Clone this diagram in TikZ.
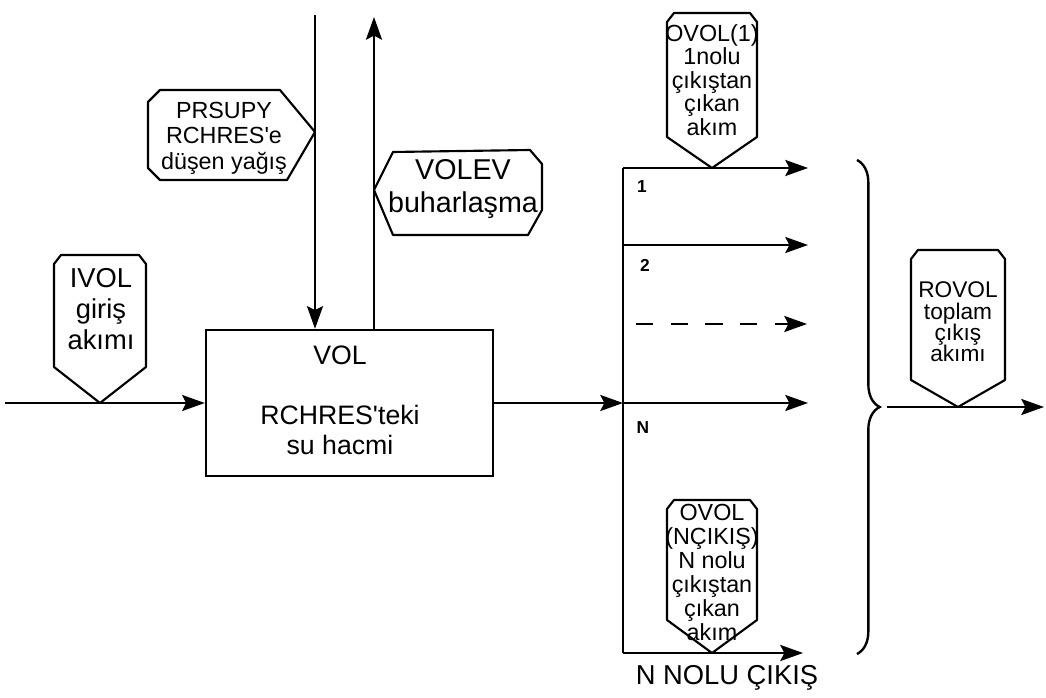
\documentclass[tikz,border=0pt]{standalone}
\usepackage{fontspec}
\setmainfont{Liberation Sans}
\usetikzlibrary{arrows.meta,decorations.pathreplacing}
\newcommand{\iri}{\fontsize{20}{22.5}\selectfont}
\newcommand{\minik}{\fontsize{13}{15}\selectfont\bfseries}
\newcommand{\tirnak}{\textquotesingle}
\tikzset{akis/.style={line width=1.8pt,-{Stealth[length=17pt,width=12pt,inset=3pt]}},
  cizgi/.style={line width=1.8pt},
  etiket/.style={line width=1.6pt,line join=round},
  yazi/.style={inner sep=0,align=center},
  kutu/.style={draw,line width=1.8pt,minimum width=215.25pt,minimum height=109.5pt,inner sep=0}}
% asagi bakan etiket: x, ust, omuz, uc, yarim genislik
\newcommand{\etiketalt}[5]{\draw[etiket] ({#1-#5},{#2+9}) -- ({#1-#5+7},#2) -- ({#1+#5-7},#2)
  -- ({#1+#5},{#2+9}) -- ({#1+#5},#3) -- (#1,#4) -- ({#1-#5},#3) -- cycle;}
\begin{document}
\begin{tikzpicture}[x=0.75pt,y=-0.75pt]
\useasboundingbox (0,0) rectangle (1046,698);
% hazne kutusu, giris ve dikey akislar
\node[kutu] (kutu) at (349.5,403) {};
\node[yazi,font=\iri] (vol) at (340,355) {VOL};
\node[yazi,font=\iri] (hacim) at (340,430) {RCHRES\tirnak teki\\su hacmi};
\coordinate (giris) at (5,403);
\draw[akis] (giris) -- (kutu.west);
\coordinate (yagis) at (315,15);
\coordinate (buhar) at (374,17);
\draw[akis] (yagis) -- (yagis |- kutu.north);
\draw[akis] (buhar |- kutu.north) -- (buhar);
% etiketler
\etiketalt{100}{255}{367}{403}{46}
\node[yazi,font=\fontsize{20.5}{23}\selectfont] (ivol) at (101,309) {IVOL\\giriş\\akımı};
\draw[etiket] (160,90) -- (280,90) -- (315,132) -- (287,180) -- (160,180) -- (148,168)
  -- (148,102) -- cycle;
\node[yazi,font=\fontsize{17.5}{19}\selectfont] (prsupy) at (224,138) {PRSUPY\\RCHRES\tirnak e\\düşen yağış};
\draw[etiket] (374,190) -- (393,152) -- (530,150) -- (542,164) -- (542,210) -- (528,235)
  -- (393,235) -- cycle;
\node[yazi,font=\fontsize{21.5}{25}\selectfont] (volev) at (463,189) {VOLEV\\buharlaşma};
% cikislara dagitim
\coordinate (dagust) at (623,168);
\coordinate (dagalt) at (623,653);
\draw[cizgi] (dagust) -- (dagalt);
\draw[akis] (kutu.east) -- (kutu.east -| dagust);
\foreach \ad/\y/\son in {bir/168/808,iki/245/808,enn/403/808,alt/653/803}{
  \coordinate (\ad a) at (623,\y);
  \coordinate (\ad b) at (\son,\y);
  \draw[akis] (\ad a) -- (\ad b);}
\coordinate (kesa) at (636,324);
\coordinate (kesb) at (807,324);
\draw[akis,dash pattern=on 13pt off 13pt] (kesa) -- (kesb);
\node[yazi,font=\minik] (no1) at (642,187) {1};
\node[yazi,font=\minik] (no2) at (645,265) {2};
\node[yazi,font=\minik] (noN) at (643,428) {N};
\etiketalt{712}{13}{137}{168}{45}
\node[yazi,font=\fontsize{17.5}{17.6}\selectfont] (ovol1) at (712,80) {OVOL(1)\\1nolu\\çıkıştan\\çıkan\\akım};
\etiketalt{712}{500}{620}{653}{45}
\node[yazi,font=\fontsize{17.5}{18}\selectfont] (ovolN) at (712,572) {OVOL\\(NÇIKIŞ)\\N nolu\\çıkıştan\\çıkan\\akım};
\node[yazi,font=\fontsize{20.5}{23}\selectfont] (nnolu) at (727,678) {N NOLU ÇIKIŞ};
% toplam cikis
\draw[cizgi,decorate,decoration={brace,amplitude=17pt}] (857,160) -- (857,654);
\coordinate (toplam) at (887,407);
\coordinate (son) at (1044,407);
\draw[akis] (toplam) -- (son);
\etiketalt{958}{250}{380}{407}{47}
\node[yazi,font=\fontsize{17}{16}\selectfont] (rovol) at (958,322) {ROVOL\\toplam\\çıkış\\akımı};
\end{tikzpicture}
\end{document}
